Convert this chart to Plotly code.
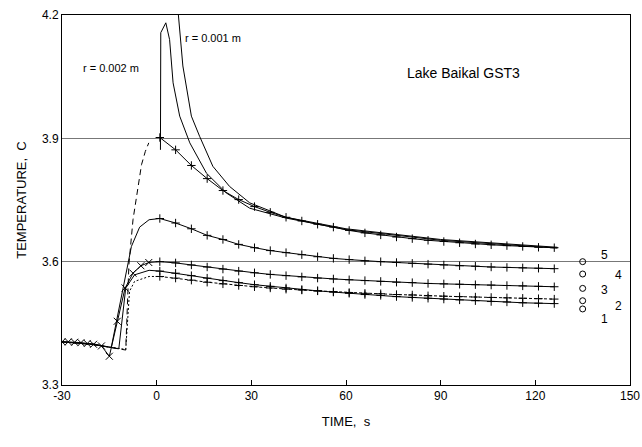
import plotly.graph_objects as go

# ---------------- data ----------------
main_t = [1, 6, 11, 16, 21, 26, 31, 36, 41, 46, 51, 56, 61, 66, 71, 76, 81, 86, 91, 96, 101, 106, 111, 116, 121, 126]

curve5 = [3.902, 3.872, 3.834, 3.802, 3.773, 3.751, 3.734, 3.720, 3.708, 3.699, 3.691, 3.684, 3.676,
          3.670, 3.665, 3.660, 3.656, 3.652, 3.649, 3.646, 3.643, 3.641, 3.639, 3.637, 3.635, 3.634]
curve4 = [3.705, 3.694, 3.680, 3.664, 3.654, 3.642, 3.634, 3.627, 3.622, 3.617, 3.612, 3.608, 3.605,
          3.602, 3.600, 3.598, 3.596, 3.594, 3.592, 3.590, 3.589, 3.587, 3.586, 3.585, 3.584, 3.583]
curve3 = [3.600, 3.597, 3.592, 3.587, 3.582, 3.577, 3.573, 3.569, 3.566, 3.563, 3.560, 3.558, 3.556,
          3.554, 3.552, 3.550, 3.549, 3.547, 3.546, 3.545, 3.544, 3.543, 3.542, 3.541, 3.540, 3.539]
curve2 = [3.564, 3.560, 3.555, 3.550, 3.546, 3.542, 3.539, 3.536, 3.533, 3.531, 3.529, 3.527, 3.525,
          3.523, 3.522, 3.520, 3.519, 3.517, 3.516, 3.515, 3.514, 3.513, 3.512, 3.511, 3.510, 3.509]
curve1 = [3.577, 3.572, 3.566, 3.560, 3.554, 3.549, 3.544, 3.540, 3.536, 3.532, 3.529, 3.526, 3.523,
          3.520, 3.518, 3.515, 3.513, 3.511, 3.509, 3.507, 3.505, 3.503, 3.502, 3.500, 3.499, 3.498]

# lead-in with x markers (to curve 3)
lead3_t = [-30, -28, -26, -24, -22, -20, -17.5, -15, -12.5, -10, -7.5, -5, -2.5, 1]
lead3_T = [3.405, 3.405, 3.404, 3.403, 3.401, 3.399, 3.395, 3.370, 3.455, 3.536, 3.572, 3.590, 3.598, 3.600]

# lead-in (solid) to curve 4
lead4_t = [-30, -20, -14.4, -8.0, -5.4, -2.4, 1]
lead4_T = [3.405, 3.400, 3.391, 3.637, 3.684, 3.702, 3.705]

# lead-in (long dash) toward curve 5
lead5_t = [-30, -20, -12, -9.8, -8.8, -7.5, -4.8, -3.6, -2.5]
lead5_T = [3.405, 3.398, 3.388, 3.385, 3.593, 3.702, 3.836, 3.868, 3.889]

# lead-in (solid) to curve 1
lead1_t = [-30, -20, -12, -9.8, -7, -2.4, 1]
lead1_T = [3.405, 3.399, 3.388, 3.536, 3.568, 3.579, 3.577]

# lead-in (dotted) to curve 2
lead2_t = [-30, -20, -11, -9.8, -8.6, -7, -2.4, 1]
lead2_T = [3.405, 3.398, 3.388, 3.386, 3.528, 3.552, 3.564, 3.564]

# spike curves (no markers)
r002_t = [1.2, 1.3, 2.9, 4.1, 5.2, 7.3, 10.5, 15.8, 22.1, 29.5, 41, 60, 90, 127]
r002_T = [3.872, 4.157, 4.181, 4.140, 4.035, 3.954, 3.889, 3.815, 3.767, 3.730, 3.706, 3.678, 3.652, 3.633]
r001_t = [6.2, 6.8, 8.3, 11, 13.6, 17.8, 23.1, 29.5, 41, 60, 90, 127]
r001_T = [4.260, 4.205, 4.076, 3.954, 3.905, 3.832, 3.783, 3.743, 3.708, 3.680, 3.654, 3.635]

# reference circles
circ_t = [135, 135, 135, 135, 135]
circ_T = [3.600, 3.570, 3.535, 3.505, 3.485]
circ_labels = ["5", "4", "3", "2", "1"]

x_ticks = [-30, 0, 30, 60, 90, 120, 150]
x_ticktext = ["-30", "0", "30", "60", "90", "120", "150"]
y_ticks = [3.3, 3.6, 3.9, 4.2]
y_ticktext = ["3.3", "3.6", "3.9", "4.2"]

# ---------------- figure ----------------
fig = go.Figure()
LW = 1
BLK = "black"
FONT = "Liberation Sans, Arial"

def add_line(x, y, dash="solid"):
    fig.add_trace(go.Scatter(x=x, y=y, mode="lines",
                             line=dict(color=BLK, width=LW, dash=dash),
                             showlegend=False, hoverinfo="skip"))

add_line(lead4_t, lead4_T)
add_line(lead5_t, lead5_T, dash="6px,4px")
add_line(lead1_t, lead1_T)
add_line(lead2_t, lead2_T, dash="2px,2px")
add_line(r002_t, r002_T)
add_line(r001_t, r001_T)

# x-marker lead-in
fig.add_trace(go.Scatter(x=lead3_t[:-1], y=lead3_T[:-1], mode="lines+markers",
                         line=dict(color=BLK, width=LW),
                         marker=dict(symbol="x-thin", size=7, line=dict(color=BLK, width=1)),
                         showlegend=False, hoverinfo="skip"))
add_line(lead3_t[-2:], lead3_T[-2:])

for cv, dash in [(curve5, "solid"), (curve4, "solid"), (curve3, "solid"),
                 (curve1, "solid"), (curve2, "3px,2px")]:
    fig.add_trace(go.Scatter(x=main_t, y=cv, mode="lines+markers",
                             line=dict(color=BLK, width=LW, dash=dash),
                             marker=dict(symbol="cross-thin", size=6, line=dict(color=BLK, width=1)),
                             showlegend=False, hoverinfo="skip"))

fig.add_trace(go.Scatter(x=circ_t, y=circ_T, mode="markers",
                         marker=dict(symbol="circle-open", size=6, color=BLK, line=dict(width=1)),
                         showlegend=False, hoverinfo="skip"))

label_pos = [(142, 3.617), (146.5, 3.568), (142, 3.530), (146.5, 3.491), (142, 3.461)]
for lab, (lx, ly) in zip(circ_labels, label_pos):
    fig.add_annotation(x=lx, y=ly, text=lab, showarrow=False,
                       font=dict(size=12, color=BLK, family=FONT))

fig.add_annotation(x=-14.6, y=4.07, text="r = 0.002 m", showarrow=False,
                   font=dict(size=11, color=BLK, family=FONT))
fig.add_annotation(x=17.7, y=4.144, text="r = 0.001 m", showarrow=False,
                   font=dict(size=11, color=BLK, family=FONT))
fig.add_annotation(x=97.3, y=4.06, text="Lake Baikal GST3", showarrow=False,
                   font=dict(size=14, color=BLK, family=FONT))

fig.update_layout(
    width=642, height=447,
    margin=dict(l=62, r=12, t=15, b=62),
    paper_bgcolor="white", plot_bgcolor="white",
    font=dict(family=FONT, size=12, color=BLK),
    xaxis=dict(range=[-30, 150], tickvals=x_ticks, ticktext=x_ticktext, ticks="inside", ticklen=5,
               tickcolor=BLK, showline=True, linecolor=BLK, linewidth=1, mirror=True,
               showgrid=False, zeroline=False, tickfont=dict(size=12), automargin=False,
               ticklabeloverflow="allow",
               title=dict(text="TIME,\u00a0\u00a0s", font=dict(size=13), standoff=14)),
    yaxis=dict(range=[3.3, 4.2], tickvals=y_ticks, ticktext=y_ticktext, ticks="",
               showline=True, linecolor=BLK, linewidth=1, mirror=True,
               showgrid=True, gridcolor="#777777", gridwidth=1, zeroline=False,
               tickfont=dict(size=12), automargin=False,
               title=dict(text="TEMPERATURE,\u00a0\u00a0C", font=dict(size=13), standoff=12)),
)

fig.write_html("out.html",
               config={"displayModeBar": False},
               post_script="document.body.style.margin='0px';"
                           "document.documentElement.style.overflow='hidden';")
